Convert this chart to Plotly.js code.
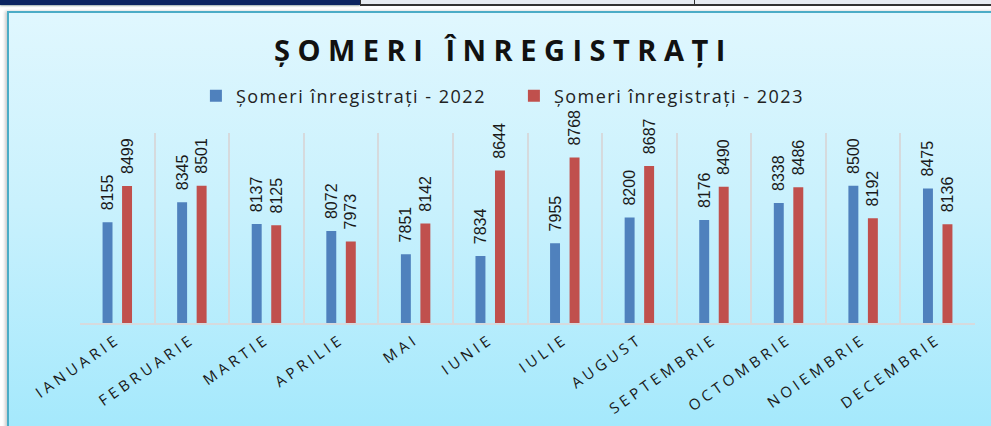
<!DOCTYPE html>
<html>
<head>
<meta charset="utf-8">
<script src="https://cdn.plot.ly/plotly-3.0.1.min.js"></script>
<style>
  html, body { margin: 0; padding: 0; width: 991px; height: 426px; overflow: hidden; background: #ffffff; }
  #navy { position: absolute; left: 0; top: 0; width: 360px; height: 5px; background: #0b2461; box-shadow: 0 1px 2px #9aa; }
  #cells { position: absolute; left: 360px; top: 0; width: 640px; height: 4px; background: #e7ecf2; border-left: 1px solid #333; border-bottom: 2px solid #333; }
  #sep { position: absolute; left: 694px; top: 0; width: 1px; height: 5px; background: #333; }
  #frame { position: absolute; left: 7px; top: 11px; width: 1000px; height: 430px;
           border-top: 2px solid #4bacc6; border-left: 2px solid #4bacc6;
           background: linear-gradient(to bottom, #e0f7fe 0%, #c9f1fd 45%, #a2e8fc 100%);
           box-shadow: -2px 0 3px #ccc; }
  #chart { position: absolute; left: 0; top: 0; width: 991px; height: 426px; }
</style>
</head>
<body>
<div id="navy"></div>
<div id="cells"></div>
<div id="sep"></div>
<div id="frame"></div>
<div id="chart"></div>
<script>
const months = ["IANUARIE","FEBRUARIE","MARTIE","APRILIE","MAI","IUNIE","IULIE","AUGUST","SEPTEMBRIE","OCTOMBRIE","NOIEMBRIE","DECEMBRIE"];
const values2022 = [8155, 8345, 8137, 8072, 7851, 7834, 7955, 8200, 8176, 8338, 8500, 8475];
const values2023 = [8499, 8501, 8125, 7973, 8142, 8644, 8768, 8687, 8490, 8486, 8192, 8136];
const seriesNames = ["Șomeri înregistrați - 2022", "Șomeri înregistrați - 2023"];
const chartTitle = "ȘOMERI ÎNREGISTRAȚI";

const labelFont = {family: "Liberation Sans, Arial, sans-serif", size: 16, color: "#1a1a1a"};
const pad = "\u00a0\u00a0";

const traces = [
  {type: "bar", name: seriesNames[0], x: months, y: values2022,
   marker: {color: "#4f81bd"}, text: values2022.map(v => pad + v), textposition: "outside",
   textangle: -90, textfont: labelFont, cliponaxis: false, constraintext: "none", hoverinfo: "none"},
  {type: "bar", name: seriesNames[1], x: months, y: values2023,
   marker: {color: "#c0504d"}, text: values2023.map(v => pad + v), textposition: "outside",
   textangle: -90, textfont: labelFont, cliponaxis: false, constraintext: "none", hoverinfo: "none"}
];

const layout = {
  width: 991, height: 426,
  paper_bgcolor: "rgba(0,0,0,0)", plot_bgcolor: "rgba(0,0,0,0)",
  margin: {l: 80, r: 16, t: 133, b: 103},
  barmode: "group", bargap: 0.477, bargroupgap: 0.49,
  title: {text: chartTitle, x: 0.508, xanchor: "center", y: 0.88, yanchor: "middle",
          font: {family: "Open Sans, sans-serif", size: 29, color: "#111", weight: "bold"}},
  showlegend: true,
  legend: {orientation: "h", x: 0.1295, xanchor: "left", y: 1.195, yanchor: "middle",
           bgcolor: "rgba(0,0,0,0)", entrywidth: 273, entrywidthmode: "pixels",
           font: {family: "Open Sans, sans-serif", size: 18, color: "#222"}},
  xaxis: {type: "category", tickson: "boundaries", showgrid: true, gridcolor: "#d6dadd", gridwidth: 2,
          showline: true, linecolor: "#d6dadd", linewidth: 2, ticks: "", tickangle: -35,
          tickfont: {family: "Open Sans, sans-serif", size: 15, color: "#1a1a1a"}, automargin: false},
  yaxis: {range: [7200, 9000], visible: false, showgrid: false, zeroline: false, fixedrange: true}
};

Plotly.newPlot("chart", traces, layout, {displayModeBar: false, staticPlot: true}).then(function(gd) {
  gd.querySelectorAll(".xtick text").forEach(function(t) { t.style.letterSpacing = "4px"; });
  gd.querySelectorAll(".gtitle").forEach(function(t) { t.style.letterSpacing = "7.5px"; });
  gd.querySelectorAll(".legendtext").forEach(function(t) { t.style.letterSpacing = "1.5px"; });
});
</script>
</body>
</html>
